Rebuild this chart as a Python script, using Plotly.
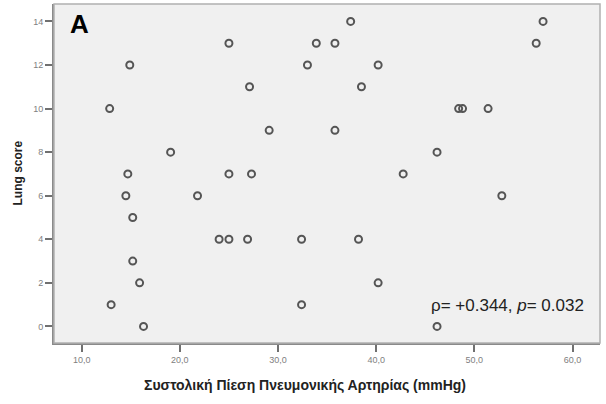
import plotly.graph_objects as go

pap_mmHg = [12.85, 14.9, 19.06, 14.7, 14.5, 15.2, 15.2, 15.9, 13.0, 16.3, 21.8,
            37.4, 25.0, 33.9, 35.8, 33.0, 40.2, 27.1, 38.5, 29.1, 35.8,
            57.0, 56.3, 48.4, 48.8, 51.4,
            25.0, 27.3, 24.0, 25.0, 26.9, 32.4, 38.2, 42.75, 46.2, 52.8,
            32.4, 40.2, 46.2]
lung_score = [10, 12, 8, 7, 6, 5, 3, 2, 1, 0, 6,
              14, 13, 13, 13, 12, 12, 11, 11, 9, 9,
              14, 13, 10, 10, 10,
              7, 7, 4, 4, 4, 4, 4, 7, 8, 6,
              1, 2, 0]
x_ticks = [10, 20, 30, 40, 50, 60]
y_ticks = [0, 2, 4, 6, 8, 10, 12, 14]

x_title = "Συστολική Πίεση Πνευμονικής Αρτηρίας (mmHg)"
y_title = "Lung score"
panel_label = "A"
stat_text = "ρ= +0.344, <i>p</i>= 0.032"

fig = go.Figure()
fig.add_trace(go.Scatter(
    x=pap_mmHg, y=lung_score, mode="markers",
    marker=dict(symbol="circle-open", size=7, color="#555555",
                line=dict(width=2, color="#555555")),
    hoverinfo="x+y", showlegend=False))

tickfont = dict(family="Liberation Sans, Arial, sans-serif", size=9, color="#808080")

fig.update_layout(
    width=606, height=404,
    margin=dict(l=54, r=6, t=4, b=61),
    paper_bgcolor="white", plot_bgcolor="#f0f0f0",
    separators=",.",
    font=dict(family="Liberation Sans, Arial, sans-serif"),
    xaxis=dict(range=[7.18, 62.8], tickvals=x_ticks, tickformat=".1f",
               automargin=False,
               showgrid=False, zeroline=False, showline=True,
               linecolor="#8a8a8a", linewidth=2, ticks="outside", ticklen=7,
               tickcolor="#707070", tickwidth=1.5, tickfont=tickfont),
    yaxis=dict(range=[-0.76, 14.8], tickvals=y_ticks, automargin=False,
               showgrid=False, zeroline=False, showline=True,
               linecolor="#8a8a8a", linewidth=2, ticks="outside", ticklen=7,
               tickcolor="#707070", tickwidth=1.5, tickfont=tickfont),
    shapes=[dict(type="rect", xref="paper", yref="paper", x0=0, y0=0, x1=1, y1=1,
                 line=dict(color="#b0b0b0", width=1.5), fillcolor="rgba(0,0,0,0)")],
    annotations=[
        dict(text=f"<b>{panel_label}</b>", xref="paper", yref="paper",
             x=0.025, y=0.99, xanchor="left", yanchor="top", showarrow=False,
             font=dict(size=26, color="black")),
        dict(text=stat_text, xref="paper", yref="paper",
             x=0.975, y=0.112, xanchor="right", yanchor="middle", showarrow=False,
             font=dict(size=17, color="#222")),
        dict(text=f"<b>{x_title}</b>", xref="paper", yref="paper",
             x=0.46, y=0, yshift=-42, xanchor="center", yanchor="middle",
             showarrow=False, font=dict(size=14, color="#222")),
        dict(text=f"<b>{y_title}</b>", xref="paper", yref="paper",
             x=0, xshift=-37, y=0.5, xanchor="center", yanchor="middle",
             textangle=-90, showarrow=False, font=dict(size=12, color="#222")),
    ],
)

fig.write_html("out.html", config={"displayModeBar": False},
               post_script="document.body.style.margin='0';document.body.style.overflow='hidden';")
